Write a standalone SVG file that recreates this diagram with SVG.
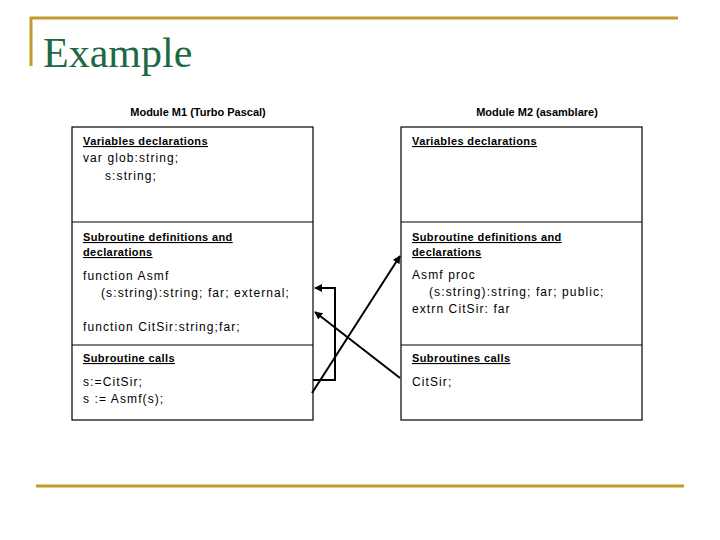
<svg xmlns="http://www.w3.org/2000/svg" width="720" height="540" viewBox="0 0 720 540">
<style>
.gold{stroke:#c09b2c;stroke-width:3;fill:none}
.box{fill:#fff;stroke:#000;stroke-width:1.2}
.div{stroke:#000;stroke-width:1.2}
.mod{font-family:"Liberation Sans",Arial,sans-serif;font-weight:bold;font-size:11px;text-anchor:middle}
.hd{font-family:"Liberation Sans",Arial,sans-serif;font-weight:bold;font-size:11px;text-decoration:underline;letter-spacing:0.4px}
.tx{font-family:"Liberation Sans",Arial,sans-serif;font-size:12px;letter-spacing:1.1px}
.con{stroke:#000;stroke-width:2;fill:none}
</style>
<defs>
<marker id="ah" viewBox="0 0 10 10" refX="9" refY="5" markerWidth="4" markerHeight="4" orient="auto" markerUnits="strokeWidth">
<path d="M0,0 L10,5 L0,10 z" fill="#000"/>
</marker>
</defs>
<g id="frame">
<line class="gold" x1="30" y1="18" x2="678" y2="18"/>
<line class="gold" x1="31" y1="17" x2="31" y2="66"/>
<line class="gold" x1="36" y1="486" x2="684" y2="486"/>
<text x="43" y="67" font-family="Liberation Serif,'Times New Roman',serif" font-size="42" fill="#1d6a42">Example</text>
</g>
<g id="m1">
<text class="mod" x="198" y="116">Module M1 (Turbo Pascal)</text>
<rect class="box" x="72" y="127" width="241" height="293"/>
<line class="div" x1="72" y1="222" x2="313" y2="222"/>
<line class="div" x1="72" y1="345" x2="313" y2="345"/>
<text class="hd" x="83" y="145">Variables declarations</text>
<text class="tx" x="83" y="162">var glob:string;</text>
<text class="tx" x="105" y="180">s:string;</text>
<text class="hd" x="83" y="241">Subroutine definitions and</text>
<text class="hd" x="83" y="256">declarations</text>
<text class="tx" x="83" y="280">function Asmf</text>
<text class="tx" x="101" y="297">(s:string):string; far; external;</text>
<text class="tx" x="83" y="331">function CitSir:string;far;</text>
<text class="hd" x="83" y="362">Subroutine calls</text>
<text class="tx" x="83" y="386">s:=CitSir;</text>
<text class="tx" x="83" y="403">s := Asmf(s);</text>
</g>
<g id="m2">
<text class="mod" x="537" y="116">Module M2 (asamblare)</text>
<rect class="box" x="401" y="127" width="241" height="293"/>
<line class="div" x1="401" y1="222" x2="642" y2="222"/>
<line class="div" x1="401" y1="345" x2="642" y2="345"/>
<text class="hd" x="412" y="145">Variables declarations</text>
<text class="hd" x="412" y="241">Subroutine definitions and</text>
<text class="hd" x="412" y="256">declarations</text>
<text class="tx" x="412" y="279">Asmf proc</text>
<text class="tx" x="429" y="296">(s:string):string; far; public;</text>
<text class="tx" x="412" y="313">extrn CitSir: far</text>
<text class="hd" x="412" y="362">Subroutines calls</text>
<text class="tx" x="412" y="386">CitSir;</text>
</g>
<g id="connectors">
<path class="con" d="M313,380 H335 V288 H315" marker-end="url(#ah)"/>
<path class="con" d="M312,393 L400,256" marker-end="url(#ah)"/>
<path class="con" d="M400,378 L315,312" marker-end="url(#ah)"/>
</g>
</svg>
